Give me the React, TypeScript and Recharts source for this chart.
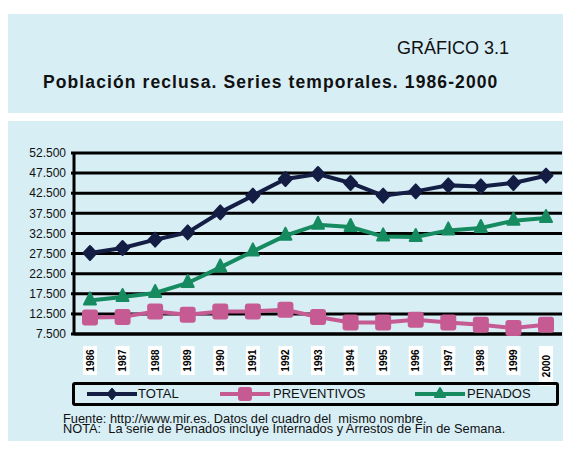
import React from 'react';
import { LineChart, Line, XAxis, YAxis, CartesianGrid, Legend } from 'recharts';

const years = ['1986', '1987', '1988', '1989', '1990', '1991', '1992', '1993', '1994', '1995', '1996', '1997', '1998', '1999', '2000'];
const total = [27640, 28880, 30950, 32760, 37740, 41890, 46040, 47280, 45040, 41890, 42960, 44450, 44200, 45040, 46860];
const preventivos = [11630, 11730, 13120, 12300, 13120, 13120, 13540, 11730, 10380, 10380, 11060, 10380, 9810, 8990, 9810];
const penados = [15850, 16700, 17690, 20180, 24060, 28040, 31940, 34680, 34100, 31770, 31620, 33260, 33850, 35670, 36340];
const yTicks = [7500, 12500, 17500, 22500, 27500, 32500, 37500, 42500, 47500, 52500];

const NAVY = '#141d44';
const PINK = '#c55b92';
const GREEN = '#168b60';
const PANEL = '#d7eef5';
const FONT = '"Liberation Sans", Arial, sans-serif';

const data = years.map((year, i) => ({
  year,
  total: total[i],
  preventivos: preventivos[i],
  penados: penados[i],
}));

// 52500 -> "52.500"
const formatMiles = (v: number) => `${Math.floor(v / 1000)}.${String(v % 1000).padStart(3, '0')}`;

const DiamondDot = (props: any) => {
  const { cx, cy } = props;
  if (cx == null || cy == null) return null;
  return (
    <polygon
      points={`${cx},${cy - 7} ${cx + 6.5},${cy} ${cx},${cy + 7} ${cx - 6.5},${cy}`}
      fill={NAVY}
      stroke={NAVY}
      strokeWidth={2}
      strokeLinejoin="round"
    />
  );
};

const SquareDot = (props: any) => {
  const { cx, cy } = props;
  if (cx == null || cy == null) return null;
  return <rect x={cx - 8} y={cy - 8} width={16} height={16} rx={3} fill={PINK} />;
};

const TriangleDot = (props: any) => {
  const { cx, cy } = props;
  if (cx == null || cy == null) return null;
  return (
    <polygon
      points={`${cx},${cy - 8} ${cx + 6},${cy + 4} ${cx - 6},${cy + 4}`}
      fill={GREEN}
      stroke={GREEN}
      strokeWidth={2}
      strokeLinejoin="round"
    />
  );
};

// year labels sit in small white boxes, written vertically
const YearTick = (props: any) => {
  const { x, y, payload, index } = props;
  const tall = index === years.length - 1;
  return (
    <g>
      <rect x={x - 7} y={y + 4} width={14} height={tall ? 40 : 29} fill="#fff" />
      <text
        x={0}
        y={0}
        transform={`translate(${x + 3.5},${y + (tall ? 24 : 18.5)}) rotate(-90)`}
        textAnchor="middle"
        fontSize={10}
        fontWeight="bold"
        fontFamily={FONT}
        fill="#000"
      >
        {payload.value}
      </text>
    </g>
  );
};

const legendItems = [
  { label: 'TOTAL', color: NAVY, shape: 'diamond', lineX: 15, textX: 66 },
  { label: 'PREVENTIVOS', color: PINK, shape: 'square', lineX: 148, textX: 201 },
  { label: 'PENADOS', color: GREEN, shape: 'triangle', lineX: 343, textX: 395 },
];

const renderLegend = () => (
  <div
    style={{
      position: 'relative',
      width: 487,
      height: 24,
      boxSizing: 'border-box',
      border: '3px solid #000',
      borderRadius: 3,
      fontFamily: FONT,
      fontSize: 13,
      color: '#111',
    }}
  >
    {legendItems.map((item) => (
      <React.Fragment key={item.label}>
        <svg style={{ position: 'absolute', left: item.lineX - 3, top: 0 }} width={52} height={18}>
          <line x1={0} y1={9} x2={50} y2={9} stroke={item.color} strokeWidth={4} />
          {item.shape === 'diamond' && (
            <polygon points="25,3 30,9 25,15 20,9" fill={item.color} stroke={item.color} strokeLinejoin="round" />
          )}
          {item.shape === 'square' && <rect x={18} y={2} width={14} height={14} rx={3} fill={item.color} />}
          {item.shape === 'triangle' && (
            <polygon points="25,3 30,12 20,12" fill={item.color} stroke={item.color} strokeWidth={2} strokeLinejoin="round" />
          )}
        </svg>
        <span style={{ position: 'absolute', left: item.textX - 3, top: 1, lineHeight: '16px' }}>{item.label}</span>
      </React.Fragment>
    ))}
  </div>
);

export default function App() {
  return (
    <div style={{ position: 'fixed', left: 0, top: 0, right: 0, bottom: 0, overflow: 'hidden', fontFamily: FONT }}>
      <style>
        {'html, body { overflow: hidden; scrollbar-width: none; } ::-webkit-scrollbar { display: none; width: 0; height: 0; }'}
      </style>
      <div style={{ position: 'absolute', left: 8, top: 8, width: 555, height: 433 }}>
        {/* Title panel */}
        <div style={{ position: 'absolute', left: 0, top: 6, width: 555, height: 99, background: PANEL }} />
        <div
          style={{
            position: 'absolute',
            right: 54,
            top: 30.5,
            fontSize: 18,
            lineHeight: '18px',
            color: '#111',
            whiteSpace: 'nowrap',
          }}
        >
          GRÁFICO 3.1
        </div>
        <div
          style={{
            position: 'absolute',
            left: 35,
            top: 65.5,
            fontSize: 17.5,
            lineHeight: '17px',
            letterSpacing: 1.1,
            fontWeight: 'bold',
            color: '#111',
            whiteSpace: 'nowrap',
          }}
        >
          Población reclusa. Series temporales. 1986-2000
        </div>

        {/* Chart panel */}
        <div style={{ position: 'absolute', left: 0, top: 113, width: 555, height: 320, background: PANEL }} />
        <div style={{ position: 'absolute', left: 0, top: 132 }}>
          <LineChart width={555} height={270} data={data} margin={{ top: 13, right: 1, left: 0, bottom: 0 }}>
            <CartesianGrid vertical={false} stroke="#000" strokeWidth={3} />
            <XAxis
              dataKey="year"
              height={76}
              interval={0}
              padding={{ left: 16, right: 16 }}
              tickLine={false}
              axisLine={{ stroke: '#000', strokeWidth: 3 }}
              tick={<YearTick />}
            />
            <YAxis
              type="number"
              domain={[7500, 52500]}
              ticks={yTicks}
              interval={0}
              width={66}
              tickSize={3}
              tickMargin={5}
              tickFormatter={formatMiles}
              axisLine={{ stroke: '#000', strokeWidth: 3 }}
              tickLine={{ stroke: '#000', strokeWidth: 3 }}
              tick={{ fill: '#111', fontSize: 12, fontFamily: FONT }}
            />
            <Legend
              layout="horizontal"
              verticalAlign="middle"
              align="center"
              wrapperStyle={{ top: 242, left: 64, width: 487, height: 24 }}
              content={renderLegend}
            />
            <Line
              type="linear"
              dataKey="total"
              name="TOTAL"
              stroke={NAVY}
              strokeWidth={4}
              dot={<DiamondDot />}
              isAnimationActive={false}
            />
            <Line
              type="linear"
              dataKey="preventivos"
              name="PREVENTIVOS"
              stroke={PINK}
              strokeWidth={4}
              dot={<SquareDot />}
              isAnimationActive={false}
            />
            <Line
              type="linear"
              dataKey="penados"
              name="PENADOS"
              stroke={GREEN}
              strokeWidth={4}
              dot={<TriangleDot />}
              isAnimationActive={false}
            />
          </LineChart>
        </div>

        {/* Footer note */}
        <div
          style={{
            position: 'absolute',
            left: 55,
            top: 405.5,
            fontSize: 12.8,
            lineHeight: '10px',
            color: '#111',
            whiteSpace: 'pre',
          }}
        >
          {'Fuente: http://www.mir.es. Datos del cuadro del  mismo nombre.\nNOTA:  La serie de Penados incluye Internados y Arrestos de Fin de Semana.'}
        </div>
      </div>
    </div>
  );
}
